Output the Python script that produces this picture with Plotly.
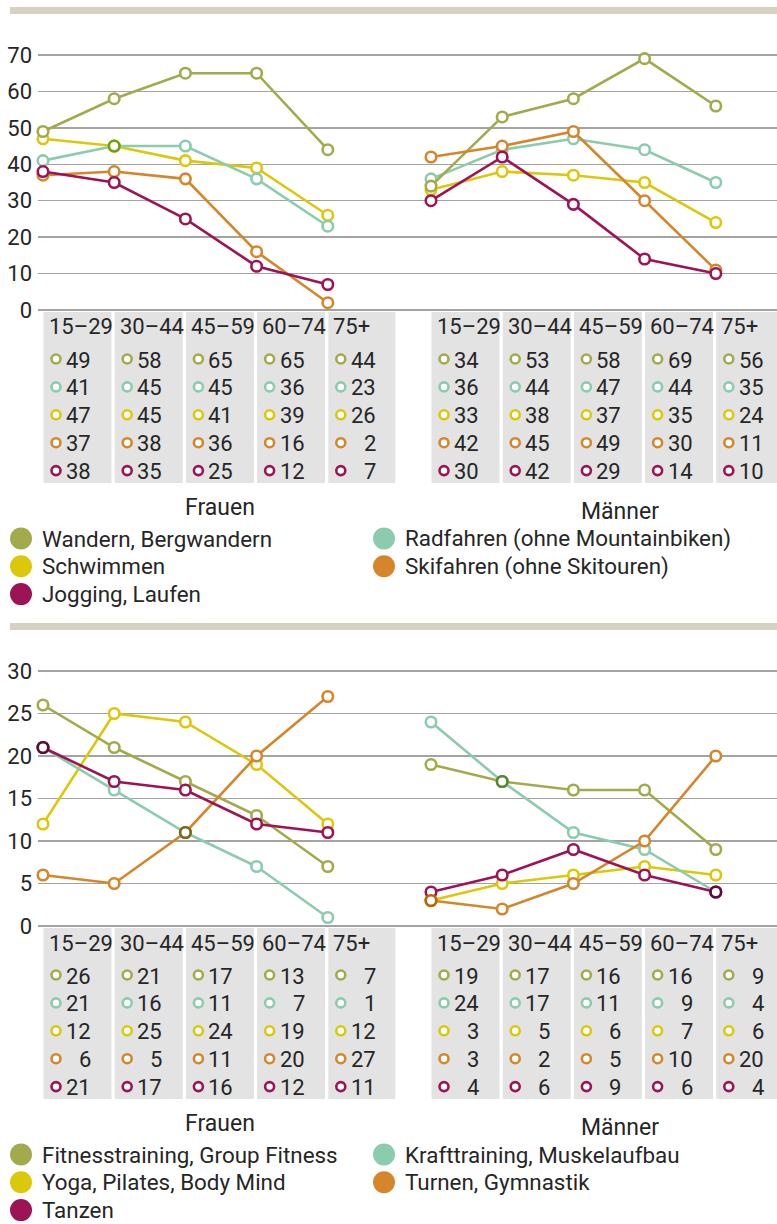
import plotly.graph_objects as go

W, H = 777, 1224

# ---------------- data ----------------
age_groups = ["15–29", "30–44", "45–59", "60–74", "75+"]
genders = ["Frauen", "Männer"]

# Panel 1
p1_names = ["Wandern, Bergwandern", "Radfahren (ohne Mountainbiken)", "Schwimmen",
            "Skifahren (ohne Skitouren)", "Jogging, Laufen"]
wandern_f = [49, 58, 65, 65, 44]
wandern_m = [34, 53, 58, 69, 56]
radfahren_f = [41, 45, 45, 36, 23]
radfahren_m = [36, 44, 47, 44, 35]
schwimmen_f = [47, 45, 41, 39, 26]
schwimmen_m = [33, 38, 37, 35, 24]
skifahren_f = [37, 38, 36, 16, 2]
skifahren_m = [42, 45, 49, 30, 11]
jogging_f = [38, 35, 25, 12, 7]
jogging_m = [30, 42, 29, 14, 10]

# Panel 2
p2_names = ["Fitnesstraining, Group Fitness", "Krafttraining, Muskelaufbau",
            "Yoga, Pilates, Body Mind", "Turnen, Gymnastik", "Tanzen"]
fitness_f = [26, 21, 17, 13, 7]
fitness_m = [19, 17, 16, 16, 9]
kraft_f = [21, 16, 11, 7, 1]
kraft_m = [24, 17, 11, 9, 4]
yoga_f = [12, 25, 24, 19, 12]
yoga_m = [3, 5, 6, 7, 6]
turnen_f = [6, 5, 11, 20, 27]
turnen_m = [3, 2, 5, 10, 20]
tanzen_f = [21, 17, 16, 12, 11]
tanzen_m = [4, 6, 9, 6, 4]

p1_ticks = [0, 10, 20, 30, 40, 50, 60, 70]
p2_ticks = [0, 5, 10, 15, 20, 25, 30]

# ---------------- styles ----------------
colors = ["#a2aa4c", "#8ccbae", "#dcc80a", "#d5862a", "#9c1455"]
draw_order = [2, 1, 0, 3, 4]
TXT = "#262626"
FONT = "Roboto"
FS = 22
GRID = "#a3a3a3"
CELL = "#e3e3e3"
BEIGE = "#d6d1c0"

panels = [
    dict(names=p1_names, f=[wandern_f, radfahren_f, schwimmen_f, skifahren_f, jogging_f],
         m=[wandern_m, radfahren_m, schwimmen_m, skifahren_m, jogging_m], ticks=p1_ticks),
    dict(names=p2_names, f=[fitness_f, kraft_f, yoga_f, turnen_f, tanzen_f],
         m=[fitness_m, kraft_m, yoga_m, turnen_m, tanzen_m], ticks=p2_ticks),
]

PANEL_OFF = [0, 616]
GROUP_X0 = [43, 431]
STEP = 71.2
GRID_LEFT = 38
Y_TOP_PX, Y_ZERO_PX = 55, 310
PAD = 12


def px(x):
    return x / W


def py(y):
    return 1 - y / H


def mult(c1, c2):
    a = [int(c1[i:i + 2], 16) for i in (1, 3, 5)]
    b = [int(c2[i:i + 2], 16) for i in (1, 3, 5)]
    return "#%02x%02x%02x" % tuple(int(u * v / 255) for u, v in zip(a, b))


fig = go.Figure()
shapes = []
annotations = []
layout_axes = {}

# overlay (pixel) axis for table markers / legend dots
ov_x, ov_y = [], []
ov_col, ov_size, ov_fill, ov_lw = [], [], [], []

for p, panel in enumerate(panels):
    off = PANEL_OFF[p]
    vmax = panel["ticks"][-1]
    ppu = (Y_ZERO_PX - Y_TOP_PX) / vmax
    padv = PAD / ppu
    dom_bottom = py(off + Y_ZERO_PX + PAD)
    dom_top = py(off + Y_TOP_PX - PAD)
    xa = "xaxis" if p == 0 else "xaxis2"
    ya = "yaxis" if p == 0 else "yaxis2"
    xr = "x" if p == 0 else "x2"
    yr = "y" if p == 0 else "y2"
    layout_axes[xa] = dict(domain=[px(GRID_LEFT), 1], range=[GRID_LEFT, W], visible=False,
                           anchor=yr, fixedrange=True)
    layout_axes[ya] = dict(domain=[dom_bottom, dom_top], range=[-padv, vmax + padv],
                           anchor=xr, tickvals=panel["ticks"], showgrid=True, gridcolor=GRID,
                           gridwidth=1.5, zeroline=False, showline=False, ticks="",
                           tickfont=dict(family=FONT, size=FS, color=TXT),
                           ticklabelstandoff=5, fixedrange=True)

    # beige header bar
    shapes.append(dict(type="rect", xref="paper", yref="paper", x0=px(10), x1=1,
                       y0=py(off + 14), y1=py(off + 7), fillcolor=BEIGE, line_width=0,
                       layer="below"))

    series_by_g = [panel["f"], panel["m"]]
    for g in range(2):
        xs = [GROUP_X0[g] + i * STEP for i in range(len(age_groups))]
        for s in draw_order:
            fig.add_trace(go.Scatter(
                x=xs, y=series_by_g[g][s], mode="lines+markers", xaxis=xr, yaxis=yr,
                line=dict(color=colors[s], width=2.6),
                marker=dict(size=10.5, color="white", opacity=1,
                            line=dict(color=colors[s], width=2.6)),
                cliponaxis=False, showlegend=False, hoverinfo="skip"))
        # darker rings where two series coincide
        dx, dy, dc = [], [], []
        for i in range(len(age_groups)):
            for a in range(5):
                for b in range(a + 1, 5):
                    if series_by_g[g][a][i] == series_by_g[g][b][i]:
                        dx.append(xs[i])
                        dy.append(series_by_g[g][a][i])
                        dc.append(mult(colors[a], colors[b]))
        if dx:
            fig.add_trace(go.Scatter(
                x=dx, y=dy, mode="markers", xaxis=xr, yaxis=yr,
                marker=dict(size=10.5, color="white", opacity=1, line=dict(color=dc, width=2.6)),
                cliponaxis=False, showlegend=False, hoverinfo="skip"))

        # table
        for i, ag in enumerate(age_groups):
            left = xs[i] + 0.5
            right = min(xs[i] + 67.5, W) if i == len(age_groups) - 1 else xs[i] + 68.5
            shapes.append(dict(type="rect", xref="paper", yref="paper", x0=px(left), x1=px(right),
                               y0=py(off + 483), y1=py(off + 312), fillcolor=CELL, line_width=0,
                               layer="below"))
            annotations.append(dict(xref="paper", yref="paper", x=px(left + 3), y=py(off + 327),
                                    text=ag, showarrow=False, xanchor="left", yanchor="middle",
                                    font=dict(family=FONT, size=FS, color=TXT)))
            for s in range(5):
                ry = off + 359 + s * 27.9
                ov_x.append(xs[i] + 13)
                ov_y.append(ry)
                ov_col.append(colors[s])
                ov_size.append(9)
                ov_fill.append("white")
                ov_lw.append(2.6)
                annotations.append(dict(xref="paper", yref="paper", x=px(xs[i] + 50), y=py(ry + 1),
                                        text=str(series_by_g[g][s][i]), showarrow=False,
                                        xanchor="right", yanchor="middle",
                                        font=dict(family=FONT, size=FS, color=TXT)))
    # gender labels
    for g, (lx, ly) in enumerate([(220, 507), (620, 511)]):
        annotations.append(dict(xref="paper", yref="paper", x=px(lx), y=py(off + ly),
                                text=genders[g], showarrow=False, xanchor="center",
                                yanchor="middle", font=dict(family=FONT, size=FS + 1, color=TXT)))
    # legend
    for k, name in enumerate(panel["names"]):
        row, col = k // 2, k % 2
        cx = [21, 384][col]
        cy = off + 538.5 + row * 27.8
        ov_x.append(cx)
        ov_y.append(cy)
        ov_col.append(colors[k])
        ov_size.append(22)
        ov_fill.append(colors[k])
        ov_lw.append(0)
        annotations.append(dict(xref="paper", yref="paper", x=px(cx + 20), y=py(cy),
                                text=name, showarrow=False, xanchor="left", yanchor="middle",
                                borderpad=0,
                                font=dict(family=FONT, size=FS + 0.4, color=TXT)))

fig.add_trace(go.Scatter(
    x=ov_x, y=ov_y, mode="markers", xaxis="x3", yaxis="y3",
    marker=dict(size=ov_size, color=ov_fill, opacity=1, line=dict(color=ov_col, width=ov_lw)),
    cliponaxis=False, showlegend=False, hoverinfo="skip"))

layout_axes["xaxis3"] = dict(domain=[0, 1], range=[0, W], visible=False, anchor="y3",
                             fixedrange=True)
layout_axes["yaxis3"] = dict(domain=[0, 1], range=[H, 0], visible=False, anchor="x3",
                             fixedrange=True)

fig.update_layout(
    width=W, height=H, margin=dict(l=0, r=0, t=0, b=0),
    paper_bgcolor="white", plot_bgcolor="rgba(0,0,0,0)",
    shapes=shapes, annotations=annotations, showlegend=False,
    font=dict(family=FONT, size=FS, color=TXT),
    **layout_axes,
)

fig.write_html("out.html", config={"displayModeBar": False, "staticPlot": True},
               post_script="document.body.style.margin='0';document.body.style.overflow='hidden';")
